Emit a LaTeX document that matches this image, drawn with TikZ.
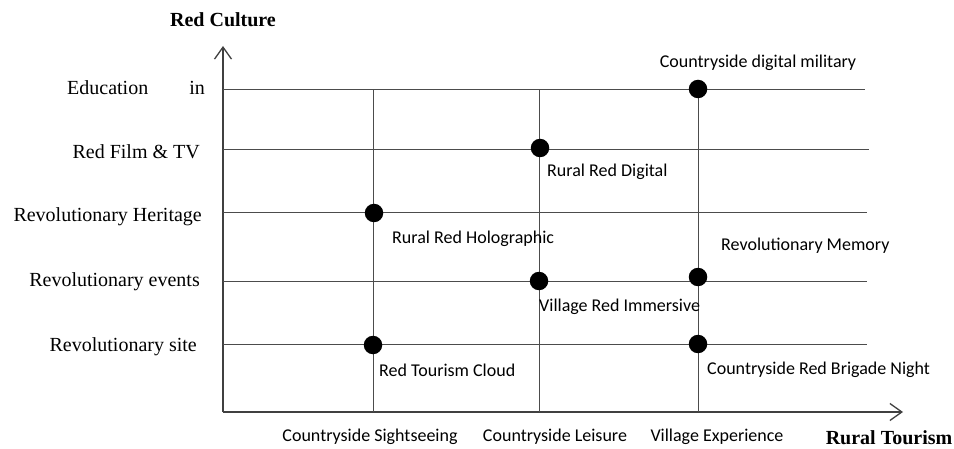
\documentclass[tikz,border=0pt]{standalone}
\usepackage{fontspec}
\setmainfont{Liberation Serif}
\newfontfamily\calfont{Carlito}
\usetikzlibrary{arrows.meta}

\tikzset{
  axis/.style={line width=1.3pt, black!75, -{Straight Barb[length=12pt,width=17pt]}},
  gridline/.style={line width=1pt, black!70},
  dot/.style={circle, fill=black, inner sep=0pt, minimum size=18.5pt},
  itemlabel/.style={anchor=west, inner sep=0pt, font=\calfont\fontsize{18}{20}\selectfont},
  catlabel/.style={anchor=east, inner sep=0pt, font=\fontsize{20}{24}\selectfont},
  axislabel/.style={inner sep=0pt, font=\bfseries\fontsize{20}{24}\selectfont}
}

\begin{document}
\begin{tikzpicture}[x=1pt,y=1pt]
\useasboundingbox (0,0) rectangle (954,448);

% axes
\coordinate (o) at (223,36);
\coordinate (ytop) at (223,402);
\coordinate (xend) at (903,36);
\draw[axis] (o) -- (ytop);
\draw[axis] (o) -- (xend);
\node[axislabel] (culture) at (223,428) {Red Culture};
\node[axislabel] (tourism) at (889,10) {Rural Tourism};

% red culture levels
\draw[gridline] (223,358) -- (865,358);
\draw[gridline] (223,298) -- (869,298);
\draw[gridline] (223,235) -- (867,235);
\draw[gridline] (223,167) -- (867,167);
\draw[gridline] (223,104) -- (867,104);
\node[catlabel] (edu) at (205,360) {Education\hspace{41pt}in};
\node[catlabel] (film) at (200,296) {Red Film \& TV};
\node[catlabel] (heritage) at (202,231) {Revolutionary Heritage};
\node[catlabel] (events) at (200,166) {Revolutionary events};
\node[catlabel] (site) at (197,101) {Revolutionary site};

% rural tourism levels
\draw[gridline] (373,36) -- (373,358);
\draw[gridline] (539,36) -- (539,358);
\draw[gridline] (698,36) -- (698,358);
\node[itemlabel, anchor=center] (sight) at (370,11) {Countryside Sightseeing};
\node[itemlabel, anchor=center] (leisure) at (555,11) {Countryside Leisure};
\node[itemlabel, anchor=center] (village) at (717,11) {Village Experience};

% products
\node[dot] (military) at (698,359) {};
\node[dot] (digital) at (540,300) {};
\node[dot] (holo) at (374,235) {};
\node[dot] (immersive) at (539,167) {};
\node[dot] (memory) at (698,171) {};
\node[dot] (cloud) at (373,103) {};
\node[dot] (brigade) at (698,104) {};

\node[itemlabel, anchor=center] (militarytext) at (758,385) {Countryside digital military};
\node[itemlabel] (digitaltext) at (547,276) {Rural Red Digital};
\node[itemlabel] (holotext) at (392,209) {Rural Red Holographic};
\node[itemlabel] (immersivetext) at (539,141) {Village Red Immersive};
\node[itemlabel] (memorytext) at (721,202) {Revolutionary Memory};
\node[itemlabel] (cloudtext) at (379,78) {Red Tourism Cloud};
\node[itemlabel] (brigadetext) at (707,78) {Countryside Red Brigade Night};
\end{tikzpicture}
\end{document}
